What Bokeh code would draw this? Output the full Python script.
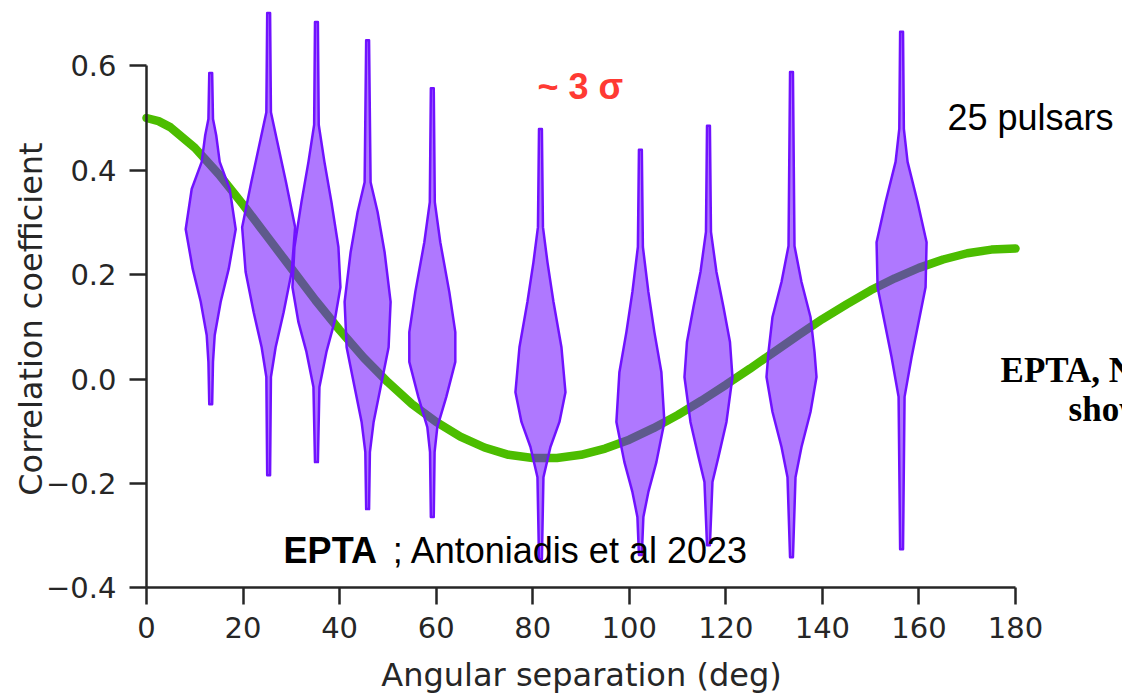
from bokeh.plotting import figure
from bokeh.models import Label, FixedTicker, Range1d, CustomJSTickFormatter
from bokeh.embed import file_html
from bokeh.resources import INLINE

# Hellings-Downs expectation
hd_angle = [0, 2.5, 5, 10, 15, 20, 25, 30, 35, 40, 45, 50, 55, 60, 65, 70, 75, 80, 85,
            90, 95, 100, 105, 110, 115, 120, 125, 130, 135, 140, 145, 150, 155, 160,
            165, 170, 175, 180]
hd_corr = [0.500, 0.494, 0.482, 0.443, 0.392, 0.334, 0.273, 0.212, 0.151, 0.094, 0.041,
           -0.006, -0.048, -0.082, -0.110, -0.131, -0.145, -0.151, -0.151, -0.145,
           -0.133, -0.116, -0.094, -0.069, -0.041, -0.011, 0.020, 0.052, 0.084,
           0.115, 0.143, 0.170, 0.193, 0.213, 0.229, 0.241, 0.248, 0.250]

# angular-separation bins of the measured correlations
bin_centers = [13.3, 25.3, 35.2, 45.8, 59.2, 81.6, 102.3, 116.4, 133.6, 156.4]

# violin profiles: correlation levels (top to bottom) and full width in degrees
violin_levels = [
    [0.586, 0.498, 0.467, 0.416, 0.364, 0.287, 0.211, 0.148, 0.084, 0.033, -0.048],
    [0.701, 0.511, 0.454, 0.377, 0.291, 0.205, 0.128, 0.061, 0.004, -0.184],
    [0.684, 0.487, 0.416, 0.339, 0.253, 0.176, 0.109, 0.052, -0.015, -0.159],
    [0.649, 0.377, 0.320, 0.243, 0.148, 0.061, -0.006, -0.082, -0.140, -0.249],
    [0.557, 0.339, 0.262, 0.167, 0.090, 0.033, -0.034, -0.092, -0.140, -0.264],
    [0.479, 0.291, 0.224, 0.148, 0.061, -0.025, -0.082, -0.130, -0.188, -0.345],
    [0.439, 0.253, 0.167, 0.090, 0.013, -0.082, -0.159, -0.216, -0.264, -0.337],
    [0.485, 0.282, 0.205, 0.138, 0.071, 0.004, -0.082, -0.149, -0.197, -0.318],
    [0.588, 0.255, 0.186, 0.119, 0.052, 0.004, -0.063, -0.130, -0.188, -0.341],
    [0.665, 0.479, 0.416, 0.339, 0.262, 0.176, 0.109, 0.042, -0.034, -0.326],
]
violin_widths = [
    [0.60, 0.95, 2.28, 3.73, 7.87, 10.36, 7.46, 4.14, 1.66, 0.95, 0.60],
    [0.60, 0.95, 3.60, 7.20, 10.98, 9.53, 6.21, 2.90, 0.95, 0.60],
    [0.60, 0.95, 3.31, 6.21, 9.11, 9.94, 7.46, 4.14, 1.24, 0.60],
    [0.60, 1.24, 4.14, 7.04, 9.53, 8.70, 5.80, 2.49, 0.95, 0.60],
    [0.60, 1.04, 3.31, 7.04, 9.53, 9.53, 5.80, 2.07, 0.95, 0.60],
    [0.60, 1.04, 2.90, 5.39, 8.70, 10.36, 7.87, 4.14, 1.24, 0.60],
    [0.60, 1.04, 3.31, 5.80, 8.70, 9.94, 6.63, 3.31, 1.24, 0.60],
    [0.60, 1.04, 3.31, 6.21, 8.91, 9.94, 7.46, 4.14, 1.66, 0.60],
    [0.60, 1.24, 4.14, 7.87, 9.53, 10.36, 7.87, 4.14, 1.66, 0.60],
    [0.60, 0.95, 2.49, 6.63, 10.36, 9.94, 7.04, 4.14, 1.24, 0.60],
]

x_ticks = [0, 20, 40, 60, 80, 100, 120, 140, 160, 180]
y_ticks = [-0.4, -0.2, 0.0, 0.2, 0.4, 0.6]

AXIS_COLOR = "#262626"
TICK_FONT = "DejaVu Sans"

# the frame fills the canvas; the axes sit at fixed data positions inside it
p = figure(width=1122, height=694,
           x_range=Range1d(-30.24, 202.16), y_range=Range1d(-0.604, 0.725),
           output_backend="svg", toolbar_location=None, min_border=0)
p.outline_line_color = None
p.xgrid.visible = False
p.ygrid.visible = False
p.background_fill_color = "white"
p.border_fill_color = "white"

# expected correlation curve
p.line(hd_angle, hd_corr, line_color="#4cbd00", line_width=8.5, line_cap="round")

# violins built from each bin's profile
xs, ys = [], []
for c, lv, wd in zip(bin_centers, violin_levels, violin_widths):
    right_x = [c + w / 2 for w in wd]
    left_x = [c - w / 2 for w in reversed(wd)]
    xs.append(right_x + left_x)
    ys.append(list(lv) + list(reversed(lv)))
p.patches(xs, ys, fill_color="#6e0aff", fill_alpha=0.55,
          line_color="#7012ff", line_width=2.5, line_join="round")

# axes
for ax in (p.xaxis[0], p.yaxis[0]):
    ax.axis_line_color = AXIS_COLOR
    ax.axis_line_width = 2.5
    ax.major_tick_line_color = AXIS_COLOR
    ax.major_tick_line_width = 2.5
    ax.major_tick_in = 0
    ax.major_tick_out = 17
    ax.minor_tick_line_color = None
    ax.major_label_text_font = TICK_FONT
    ax.major_label_text_font_size = "29px"
    ax.major_label_text_color = AXIS_COLOR

p.xaxis.ticker = FixedTicker(ticks=x_ticks)
p.xaxis.bounds = (0, 180)
p.xaxis.fixed_location = -0.4
p.xaxis.major_label_standoff = 12

p.yaxis.ticker = FixedTicker(ticks=y_ticks)
p.yaxis.bounds = (-0.4, 0.6)
p.yaxis.fixed_location = 0
p.yaxis.major_label_standoff = 13
p.yaxis.formatter = CustomJSTickFormatter(
    code="return (tick < -1e-9 ? '\u2212' : '') + Math.abs(tick).toFixed(1);")

# axis titles
p.add_layout(Label(x=90.1, y=-0.566, text="Angular separation (deg)",
                   text_font=TICK_FONT, text_font_size="32px",
                   text_color=AXIS_COLOR, text_align="center",
                   text_baseline="alphabetic"))
p.add_layout(Label(x=-24.0, y=0.115, text="Correlation coefficient",
                   angle=90, angle_units="deg",
                   text_font=TICK_FONT, text_font_size="32px",
                   text_color=AXIS_COLOR, text_align="center",
                   text_baseline="middle"))

# annotations
p.add_layout(Label(x=81.0, y=0.561, text="~ 3 \u03c3",
                   text_font="Liberation Sans", text_font_style="bold",
                   text_font_size="36px", text_color="#ff3a33",
                   text_baseline="alphabetic"))
p.add_layout(Label(x=165.9, y=0.500, text="25 pulsars",
                   text_font="Liberation Sans", text_font_size="36px",
                   text_color="black", text_baseline="alphabetic"))
p.add_layout(Label(x=28.4, y=-0.329, text="EPTA",
                   text_font="Liberation Sans", text_font_style="bold",
                   text_font_size="36px", text_color="black",
                   text_baseline="alphabetic"))
p.add_layout(Label(x=51.0, y=-0.329, text="; Antoniadis et al 2023",
                   text_font="Liberation Sans", text_font_size="36px",
                   text_color="black", text_baseline="alphabetic"))
p.add_layout(Label(x=176.9, y=0.0155, text="EPTA, NANOGrav",
                   text_font="Liberation Serif", text_font_style="bold",
                   text_font_size="35px", text_color="black",
                   text_baseline="alphabetic"))
p.add_layout(Label(x=191.0, y=-0.059, text="show",
                   text_font="Liberation Serif", text_font_style="bold",
                   text_font_size="35px", text_color="black",
                   text_baseline="alphabetic"))

open("out.html", "w").write(file_html(p, INLINE))
